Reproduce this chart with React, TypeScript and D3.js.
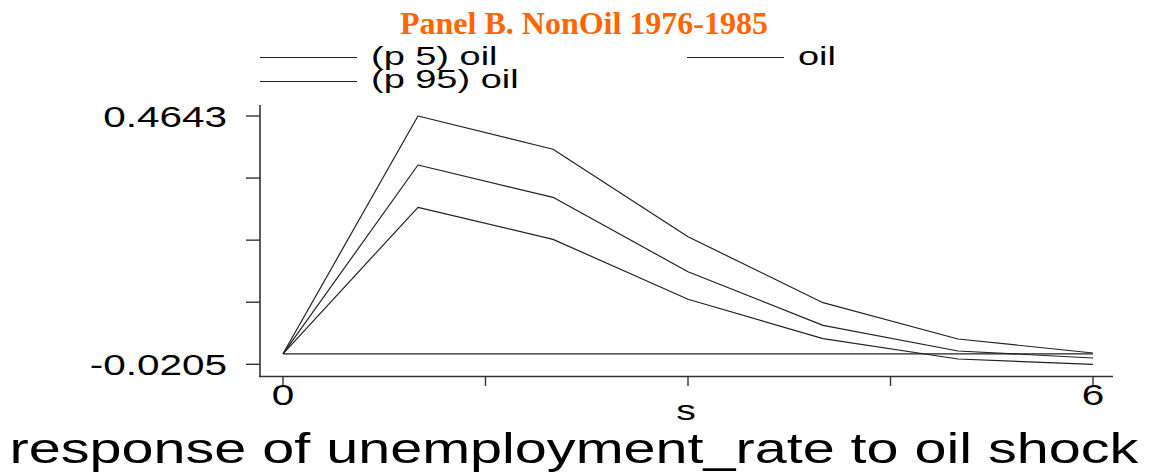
import React from "react";
import * as d3 from "d3";

const steps = [0, 1, 2, 3, 4, 5, 6];
const p5Oil = [0, 0.286, 0.2235, 0.1066, 0.0295, -0.0102, -0.0205];
const oil = [0, 0.3686, 0.3055, 0.1603, 0.0556, 0.0055, -0.0082];
const p95Oil = [0, 0.4643, 0.3993, 0.2286, 0.0998, 0.0289, 0.0016];
const yTickValues = [-0.0205, 0.1007, 0.2219, 0.3431, 0.4643];
const yTickLabels = ["-0.0205", "", "", "", "0.4643"];
const xTickValues = [0, 1.5, 3, 4.5, 6];
const xTickLabels = ["0", "", "", "", "6"];
const legendLabels = ["(p 5) oil", "oil", "(p 95) oil"];
const titleText = "Panel B. NonOil 1976-1985";
const xTitle = "s";
const bottomTitle = "response of unemployment_rate to oil shock";

const W = 1170;
const H = 474;
const SANS = "'Liberation Sans', Arial, Helvetica, sans-serif";

function SText({ x, y, size, anchor, sx, children }: any) {
  return (
    <g transform={`translate(${x},${y}) scale(${sx || 1.35},1)`}>
      <text x={0} y={0} fontFamily={SANS} fontSize={size} textAnchor={anchor || "start"} fill="#000">
        {children}
      </text>
    </g>
  );
}

export default function App() {
  const x = d3.scaleLinear().domain([0, 6]).range([283, 1093]);
  const y = d3.scaleLinear().domain([-0.0205, 0.4643]).range([364.3, 116]);
  const line = d3
    .line<number>()
    .x((_, i) => x(steps[i]))
    .y((d) => y(d));
  const series = [p5Oil, oil, p95Oil];
  const lineColor = "#222";
  const axisColor = "#333";

  const legendItems = [
    { lx: 260, ly: 57.5, tx: 371, ty: 65 },
    { lx: 687, ly: 57.5, tx: 798, ty: 65 },
    { lx: 260, ly: 81.5, tx: 371, ty: 88 },
  ];

  return (
    <svg width={W} height={H} style={{ position: "absolute", left: 0, top: 0, background: "#fff" }}>
      <rect x={0} y={0} width={W} height={H} fill="#fff" />
      <text
        x={584}
        y={34}
        textAnchor="middle"
        fontFamily="'Liberation Serif', 'Times New Roman', serif"
        fontWeight="bold"
        fontSize={32}
        fill="#FF6600"
      >
        {titleText}
      </text>
      {legendLabels.map((lab, i) => (
        <g key={lab}>
          <line x1={legendItems[i].lx} x2={legendItems[i].lx + 97} y1={legendItems[i].ly} y2={legendItems[i].ly} stroke={lineColor} strokeWidth={1.2} />
          <SText x={legendItems[i].tx} y={legendItems[i].ty} size={26} sx={1.46}>
            {lab}
          </SText>
        </g>
      ))}
      {/* axes */}
      <line x1={260} x2={260} y1={105} y2={377} stroke={axisColor} strokeWidth={1.6} />
      <line x1={259} x2={1113} y1={376.5} y2={376.5} stroke={axisColor} strokeWidth={1.6} />
      {yTickValues.map((v, i) => (
        <g key={"y" + i}>
          <line x1={246} x2={260} y1={y(v)} y2={y(v)} stroke={axisColor} strokeWidth={1.4} />
          {yTickLabels[i] && (
            <SText x={227} y={y(v) + 10.5} size={30} anchor="end">
              {yTickLabels[i]}
            </SText>
          )}
        </g>
      ))}
      {xTickValues.map((v, i) => (
        <g key={"x" + i}>
          <line x1={x(v)} x2={x(v)} y1={376.5} y2={386} stroke={axisColor} strokeWidth={1.4} />
          {xTickLabels[i] && (
            <SText x={x(v)} y={405} size={30} anchor="middle">
              {xTickLabels[i]}
            </SText>
          )}
        </g>
      ))}
      <SText x={686} y={420} size={28} anchor="middle" sx={1.4}>
        {xTitle}
      </SText>
      <SText x={574} y={463} size={42} anchor="middle" sx={1.37}>
        {bottomTitle}
      </SText>
      {/* zero line */}
      <line x1={x(0)} x2={x(6)} y1={y(0)} y2={y(0)} stroke={lineColor} strokeWidth={1.2} />
      {series.map((s, i) => (
        <path key={i} d={line(s) || ""} fill="none" stroke={lineColor} strokeWidth={1.2} strokeLinejoin="round" />
      ))}
    </svg>
  );
}
